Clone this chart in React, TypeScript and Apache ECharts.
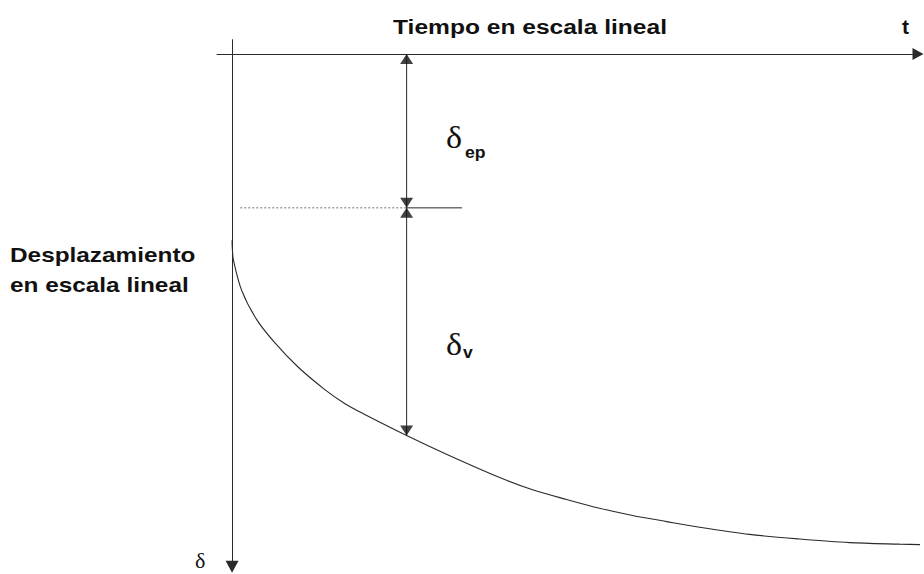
import React, { useEffect, useRef } from 'react';
import * as echarts from 'echarts';

// Creep curve: time (linear scale) against displacement (linear scale, growing downward)
const timeValues = [0, 0.04, 0.2, 1.4, 3.6, 6.3, 9.6, 13.6, 16.5, 19.1, 25.5, 31.4, 39.1, 43.9, 48.9, 53.7, 58.5, 63.5, 68.3, 75.6, 82.9, 90.2, 97.5, 101];
const displacementValues = [36.3, 37.9, 40.2, 46.1, 51.8, 56.4, 61.0, 65.5, 68.2, 70.1, 74.4, 78.1, 82.6, 85.0, 86.9, 88.6, 90.0, 91.2, 92.3, 93.7, 94.6, 95.3, 95.6, 95.7];

// Dimension lines: δep from the time axis down to the guide, δv from the guide down to the curve
const markerTime = 25.5;
const elasticPlasticDepth = 30;
const guideStart = 1.2;
const guideEnd = 33.6;

// Axis ranges
const timeRange = [-2.2, 100.2];
const displacementRange = [-2.8, 100];

// Texts
const timeTitle = 'Tiempo en escala lineal';
const timeSymbol = 't';
const displacementTitle = ['Desplazamiento', 'en escala lineal'];
const displacementSymbol = 'δ';
const labelEp = ['δ', 'ep'];
const labelV = ['δ', 'v'];

const ink = '#2a2a2a';
const sans = '"Liberation Sans", Arial, Helvetica, sans-serif';
const serif = '"Liberation Serif", "Times New Roman", serif';

export default function App() {
  const ref = useRef<HTMLDivElement>(null);

  useEffect(() => {
    if (!ref.current) return;
    const chart = echarts.init(ref.current, null, { renderer: 'svg' });

    const curve = timeValues.map((t, i) => [t, displacementValues[i]]);
    const markerIdx = timeValues.indexOf(markerTime);
    const curveAtMarker = displacementValues[markerIdx];

    // Arrowheads: tip sits on the point, body stays on the dimension line
    const arrowUp = (v: number) => ({ value: [markerTime, v], symbolRotate: 0, symbolOffset: [0, '50%'] });
    const arrowDown = (v: number) => ({ value: [markerTime, v], symbolRotate: 180, symbolOffset: [0, '-50%'] });

    const hidden = {
      axisTick: { show: false },
      axisLabel: { show: false },
      splitLine: { show: false },
    };

    const option = {
      animation: false,
      backgroundColor: '#ffffff',
      grid: { left: 217, top: 39.7, width: 701, height: 527 },
      xAxis: {
        type: 'value',
        min: timeRange[0],
        max: timeRange[1],
        axisLine: {
          show: true,
          onZero: true,
          symbol: ['none', 'triangle'],
          symbolSize: [12, 11],
          lineStyle: { color: ink, width: 1 },
        },
        ...hidden,
      },
      yAxis: {
        type: 'value',
        inverse: true,
        min: displacementRange[0],
        max: displacementRange[1],
        axisLine: {
          show: true,
          onZero: true,
          symbol: ['triangle', 'none'],
          symbolSize: [13, 12],
          lineStyle: { color: ink, width: 1 },
        },
        ...hidden,
      },
      series: [
        {
          type: 'line',
          data: curve,
          showSymbol: false,
          smooth: 0.3,
          clip: false,
          lineStyle: { color: ink, width: 1.1 },
        },
        {
          type: 'line',
          data: [[guideStart, elasticPlasticDepth], [markerTime, elasticPlasticDepth]],
          showSymbol: false,
          lineStyle: { color: '#6a6a6a', width: 1, type: [2, 2] },
        },
        {
          type: 'line',
          data: [[markerTime, elasticPlasticDepth], [guideEnd, elasticPlasticDepth]],
          showSymbol: false,
          lineStyle: { color: ink, width: 1 },
        },
        {
          type: 'line',
          data: [[markerTime, 0], [markerTime, curveAtMarker]],
          showSymbol: false,
          lineStyle: { color: ink, width: 1 },
        },
        {
          type: 'scatter',
          symbol: 'triangle',
          symbolSize: [13, 10],
          itemStyle: { color: '#111' },
          silent: true,
          z: 5,
          data: [
            arrowUp(0),
            arrowDown(elasticPlasticDepth),
            arrowUp(elasticPlasticDepth),
            arrowDown(curveAtMarker),
          ],
        },
      ],
      graphic: [
        {
          type: 'text', x: 530, y: 27, scaleX: 1.17,
          style: { text: timeTitle, font: `bold 21px ${sans}`, fill: '#111', align: 'center', verticalAlign: 'middle' },
        },
        {
          type: 'text', x: 905.5, y: 26,
          style: { text: timeSymbol, font: `bold 21px ${sans}`, fill: '#111', align: 'center', verticalAlign: 'middle' },
        },
        {
          type: 'text', x: 10, y: 239.5, scaleX: 1.16,
          style: { text: displacementTitle.join('\n'), font: `bold 21px ${sans}`, lineHeight: 30, fill: '#111', align: 'left', verticalAlign: 'top' },
        },
        {
          type: 'text', x: 195, y: 561, scaleX: 1.1,
          style: { text: displacementSymbol, font: `20px ${serif}`, fill: '#111', align: 'left', verticalAlign: 'middle' },
        },
        {
          type: 'text', x: 446, y: 138, scaleX: 1.1,
          style: { text: labelEp[0], font: `31px ${serif}`, fill: '#111', align: 'left', verticalAlign: 'middle' },
        },
        {
          type: 'text', x: 465, y: 153, scaleX: 1.1,
          style: { text: labelEp[1], font: `bold 16px ${sans}`, fill: '#111', align: 'left', verticalAlign: 'middle' },
        },
        {
          type: 'text', x: 446, y: 345, scaleX: 1.1,
          style: { text: labelV[0], font: `31px ${serif}`, fill: '#111', align: 'left', verticalAlign: 'middle' },
        },
        {
          type: 'text', x: 463, y: 353, scaleX: 1.1,
          style: { text: labelV[1], font: `bold 16px ${sans}`, fill: '#111', align: 'left', verticalAlign: 'middle' },
        },
      ],
    };

    chart.setOption(option as any);
    return () => chart.dispose();
  }, []);

  return <div ref={ref} style={{ position: 'absolute', left: 0, top: 0, width: 924, height: 574 }} />;
}
